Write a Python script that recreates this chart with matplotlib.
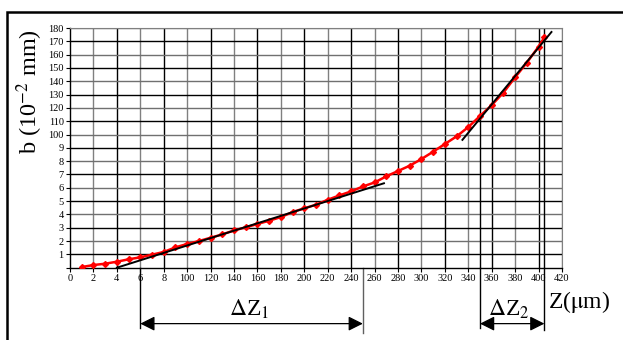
import numpy as np
import matplotlib as mpl
import matplotlib.pyplot as plt
from matplotlib.patches import Rectangle
mpl.use('agg')

plt.rcParams['font.family'] = ['Liberation Serif', 'DejaVu Serif']
plt.rcParams['mathtext.fontset'] = 'stix'

##--##--  data  --##--##
z = [10, 20, 30, 40, 50, 60, 70, 80, 90, 100, 110, 120, 130, 140, 150, 160, 170, 180, 190, 200,
     210, 220, 230, 240, 250, 260, 270, 280, 290, 300, 310, 320, 330, 340, 350, 360, 370, 380, 390, 400, 405]
b = [0.5, 2.0, 3.0, 4.5, 6.3, 7.8, 9.8, 11.8, 15.3, 17.8, 20.0, 22.5, 25.0, 28.0, 30.3, 32.8, 35.3, 38.0, 41.8, 44.6,
     47.3, 51.0, 54.3, 57.3, 61.0, 64.0, 68.6, 72.6, 76.6, 81.6, 87.1, 92.9, 98.6, 105.6, 113.9, 122.1, 131.5, 143.0, 154.0, 166.0, 173.0]

tan1_z = [40, 268]
tan1_b = [0.0, 63.4]
tan2_z = [335, 411]
tan2_b = [96.0, 177.0]

xtick_pos = list(range(0, 421, 20))
xtick_lab = ["0", "2", "4", "6", "8"] + [str(v) for v in range(100, 421, 20)]
ytick_pos = list(range(0, 181, 10))
ytick_lab = [""] + [str(v) for v in range(1, 10)] + [str(v) for v in range(100, 181, 10)]

dz1 = [60, 250]
dz2 = [350, 405]

##--##--  figure  --##--##
W, H = 623, 340
fig = plt.figure(figsize=(W / 100, H / 100), dpi=100)

# outer frame (right and bottom edges fall outside the picture)
fig.patches.append(Rectangle((7 / W, -0.2), 1.2, 0.2 + (H - 12) / H, transform=fig.transFigure,
                             fill=False, edgecolor='black', linewidth=1.8, clip_on=False))

ax = fig.add_axes([70 / W, (H - 267.7) / H, 492 / W, 239.7 / H])
ax.set_xlim(0, 420)
ax.set_ylim(0, 180)

# grid: alternating black / gray lines
for i, xv in enumerate(xtick_pos[1:], start=1):
    ax.axvline(xv, color='black' if i % 2 == 0 else '#808080', linewidth=1.0, zorder=1)
for i, yv in enumerate(ytick_pos[1:], start=1):
    ax.axhline(yv, color='black' if i % 2 == 1 else '#707070', linewidth=1.0, zorder=1)
for xv in dz2:
    ax.axvline(xv, color='black', linewidth=1.0, zorder=1)

for s in ['top', 'right']:
    ax.spines[s].set_color('#808080')
for s in ['left', 'bottom']:
    ax.spines[s].set_color('black')
    ax.spines[s].set_linewidth(1.0)

ax.set_xticks(xtick_pos)
ax.set_xticklabels(xtick_lab)
ax.set_yticks(ytick_pos)
ax.set_yticklabels(ytick_lab)
ax.tick_params(axis='both', length=3, width=0.8, labelsize=7.5, pad=1.5)

ax.plot(z, b, color='red', linewidth=1.8, marker='D', markersize=3.0, zorder=4)
ax.plot(tan1_z, tan1_b, color='black', linewidth=1.4, zorder=5)
ax.plot(tan2_z, tan2_b, color='black', linewidth=1.4, zorder=5)

# y label, centred at about (30 px, 92 px) of the picture
ax.text((30 - 70) / 492, (267.7 - 92) / 239.7, 'b (10$^{-2}$ mm)', fontsize=17.5,
        rotation=90, ha='center', va='center', transform=ax.transAxes)

# delta-Z markers below the axis
ybot = [-45.0, -49.0, -45.0, -47.0]
for xv, yb in zip(dz1 + dz2, ybot):
    ax.plot([xv, xv], [0, yb], color='black' if xv != 250 else '#606060', linewidth=1.0, clip_on=False)

arrow_y = -42.0
for pair in [dz1, dz2]:
    ax.annotate('', xy=(pair[0], arrow_y), xytext=(pair[1], arrow_y),
                arrowprops=dict(arrowstyle='<|-|>', color='black', linewidth=0.9,
                                mutation_scale=22, shrinkA=0, shrinkB=0),
                annotation_clip=False)

ax.text(153, -31, r'$\Delta$Z$_1$', fontsize=17, ha='center', va='center')
ax.text(375, -31, r'$\Delta$Z$_2$', fontsize=17, ha='center', va='center')
ax.text(408, -26, r'Z($\mathrm{\mu}$m)', fontsize=17, ha='left', va='center')

fig.savefig('out.png', dpi=100)
